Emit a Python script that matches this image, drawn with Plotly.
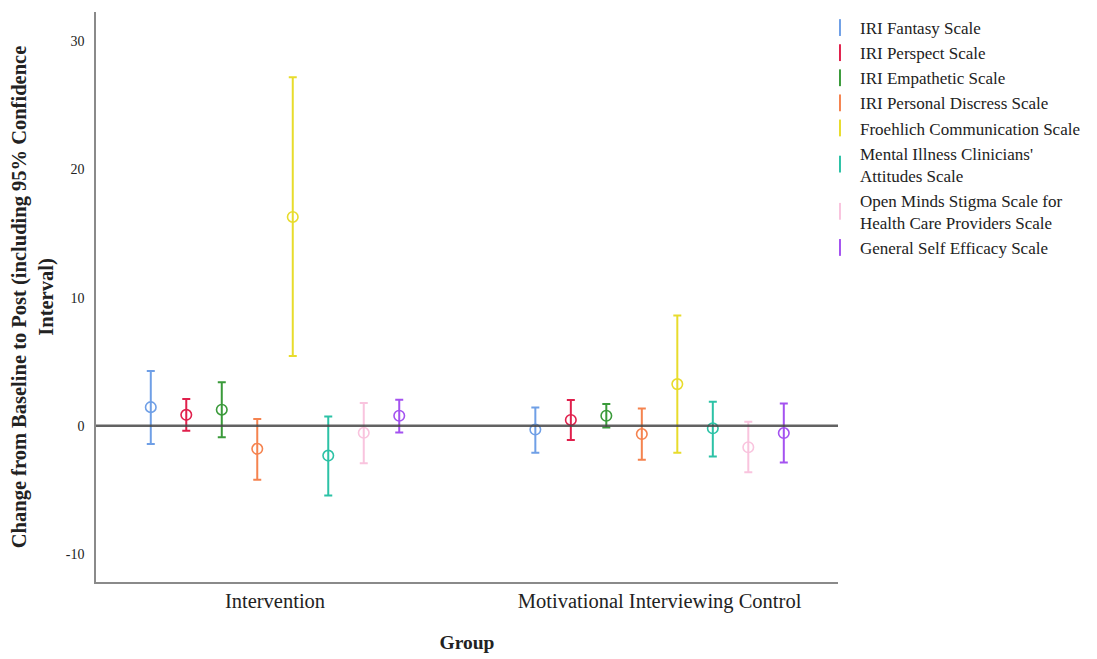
import plotly.graph_objects as go

groups = ["Intervention", "Motivational Interviewing Control"]
scales = [
    "IRI Fantasy Scale",
    "IRI Perspect Scale",
    "IRI Empathetic Scale",
    "IRI Personal Discress Scale",
    "Froehlich Communication Scale",
    "Mental Illness Clinicians'<br>Attitudes Scale",
    "Open Minds Stigma Scale for<br>Health Care Providers Scale",
    "General Self Efficacy Scale",
]
colors = ["#6f9fe6", "#e0204c", "#3a9a3a", "#f5834f", "#e8dc2c", "#2cc2a6", "#f9c4de", "#a452f0"]

# mean change per scale, [Intervention, Control]
means = [
    [1.45, -0.30],
    [0.85, 0.45],
    [1.25, 0.78],
    [-1.80, -0.65],
    [16.30, 3.25],
    [-2.33, -0.20],
    [-0.55, -1.68],
    [0.78, -0.57],
]
upper = [
    [4.28, 1.43],
    [2.08, 2.00],
    [3.40, 1.70],
    [0.52, 1.34],
    [27.20, 8.60],
    [0.72, 1.87],
    [1.77, 0.31],
    [2.03, 1.74],
]
lower = [
    [-1.42, -2.10],
    [-0.39, -1.12],
    [-0.90, -0.13],
    [-4.22, -2.65],
    [5.45, -2.10],
    [-5.44, -2.41],
    [-2.93, -3.64],
    [-0.52, -2.88],
]
y_ticks = [-10, 0, 10, 20, 30]
y_tick_text = ["-10", "0", "10", "20", "30"]

n = len(scales)
step = 0.0923  # dodge spacing between scales within a group (category units)

fig = go.Figure()
for i in range(n):
    xs = [g + (i - (n - 1) / 2) * step for g in range(len(groups))]
    fig.add_trace(go.Scatter(
        x=xs, y=means[i], mode="markers", showlegend=False,
        marker=dict(symbol="circle-open", size=10.5, color=colors[i], line=dict(width=1.6, color=colors[i])),
        error_y=dict(type="data", symmetric=False,
                     array=[u - m for u, m in zip(upper[i], means[i])],
                     arrayminus=[m - l for m, l in zip(means[i], lower[i])],
                     color=colors[i], thickness=2, width=4),
    ))
    fig.add_trace(go.Scatter(
        x=[None], y=[None], mode="markers", name=scales[i],
        marker=dict(symbol="line-ns-open", size=12, color=colors[i], line=dict(width=2, color=colors[i])),
    ))

fig.add_shape(type="line", xref="paper", yref="y", x0=0, x1=1, y0=0, y1=0,
              line=dict(color="rgba(70,70,70,0.85)", width=2.5), layer="above")

fig.update_layout(
    width=1089, height=651,
    margin=dict(l=88, r=259, t=2, b=77),
    plot_bgcolor="white", paper_bgcolor="white",
    font=dict(family="Liberation Serif, Times New Roman, serif", color="#222"),
    xaxis=dict(range=[-0.4655, 1.464], tickvals=[0, 1], ticktext=groups,
               tickfont=dict(size=20.5), showgrid=False, zeroline=False,
               showline=True, linecolor="#8a8a8a", linewidth=1.5, ticks="",
               title=dict(text="<b>Group</b>", font=dict(size=19.5), standoff=23)),
    yaxis=dict(range=[-12.2, 32.3], tickvals=y_ticks, ticktext=y_tick_text,
               tickfont=dict(size=14), showgrid=False, zeroline=False,
               showline=True, linecolor="#8a8a8a", linewidth=1.5, ticks="",
               ticklabelstandoff=7,
               title=dict(text="<b>Change from Baseline to Post (including 95% Confidence<br>Interval)</b>",
                          font=dict(size=20.5), standoff=12)),
    legend=dict(x=0.9757, xanchor="left", y=1.0035, yanchor="top",
                font=dict(size=17), tracegroupgap=0, itemwidth=30),
)

fig.write_html("out.html")
